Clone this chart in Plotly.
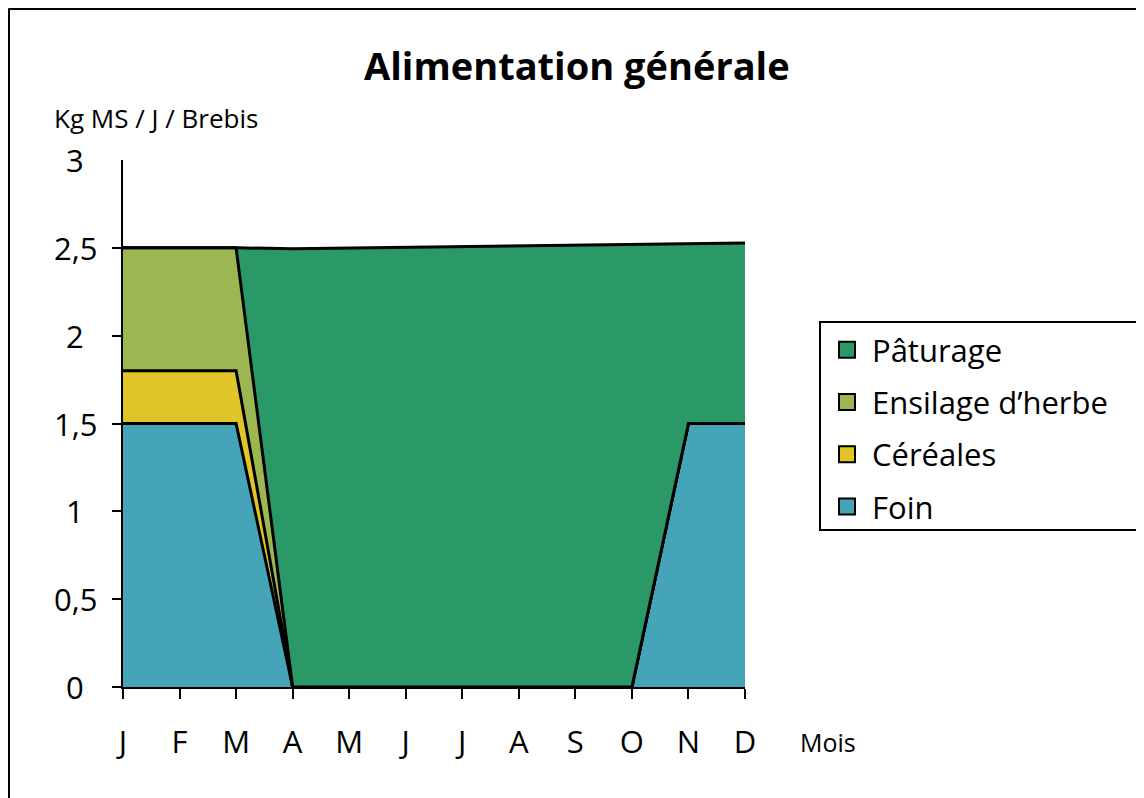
import plotly.graph_objects as go

months = ["J", "F", "M", "A", "M", "J", "J", "A", "S", "O", "N", "D"]
foin = [1.5, 1.5, 1.5, 0, 0, 0, 0, 0, 0, 0, 1.5, 1.5]
cereales = [0.3, 0.3, 0.3, 0, 0, 0, 0, 0, 0, 0, 0, 0]
ensilage = [0.7, 0.7, 0.7, 0, 0, 0, 0, 0, 0, 0, 0, 0]
paturage = [0, 0, 0, 2.495, 2.499, 2.503, 2.507, 2.511, 2.515, 2.519, 1.023, 1.027]
y_vals = [0, 0.5, 1, 1.5, 2, 2.5, 3]
y_labels = ["0", "0,5", "1", "1,5", "2", "2,5", "3"]

series = [
    ("Foin", foin, "#46a4b8"),
    ("Céréales", cereales, "#e0c528"),
    ("Ensilage d’herbe", ensilage, "#9cb752"),
    ("Pâturage", paturage, "#2b9868"),
]

# page body has an 8px margin: figure pixel = screen pixel - 8
OFF = 8
W, H = 1144 - OFF, 798 - OFF
L, R, T, B = 123 - OFF, 745 - OFF, 160 - OFF, 687 - OFF
def px(x):
    return (x - OFF - L) / (R - L)
def py(y):
    return (B - (y - OFF)) / (B - T)

FONT = "Open Sans"
x = list(range(len(months)))

fig = go.Figure()
for name, vals, col in series:
    fig.add_trace(go.Scatter(
        x=x, y=vals, mode="lines", stackgroup="s", fillcolor=col,
        line=dict(color="black", width=3, shape="linear"),
        showlegend=False, hoverinfo="skip", name=name))
# legend entries, top to bottom: Pâturage ... Foin
for name, vals, col in reversed(series):
    fig.add_trace(go.Scatter(
        x=[None], y=[None], mode="markers", name=name, legendgroup=name,
        marker=dict(symbol="square", size=22, color=col,
                    line=dict(color="black", width=2))))

fig.update_layout(
    width=W, height=H, autosize=False,
    margin=dict(l=L, r=W - R, t=T, b=H - B, pad=0),
    paper_bgcolor="white", plot_bgcolor="white",
    font=dict(family=FONT, color="black"),
    showlegend=True,
    legend=dict(x=px(822), y=py(323), xanchor="left", yanchor="top",
                borderwidth=0, bgcolor="rgba(0,0,0,0)",
                font=dict(size=31, family=FONT), traceorder="grouped",
                tracegroupgap=9, itemsizing="trace", itemwidth=40),
)
fig.update_xaxes(range=[0, 11], tickvals=x, ticktext=months,
                 showline=True, linecolor="black", linewidth=2,
                 ticks="outside", ticklen=10, tickwidth=2, tickcolor="black",
                 showgrid=False, zeroline=False,
                 tickfont=dict(size=31, family=FONT), ticklabelstandoff=17)
fig.update_yaxes(range=[0, 3], tickvals=[v for v in y_vals if v < 3],
                 showticklabels=False,
                 showline=True, linecolor="black", linewidth=2,
                 ticks="outside", ticklen=9, tickwidth=2, tickcolor="black",
                 showgrid=False, zeroline=False)

# y tick labels, centred in a column (as in the original)
for v, t in zip(y_vals, y_labels):
    fig.add_annotation(text=t, x=px(75), y=v, xref="paper", yref="y",
                       showarrow=False, xanchor="center", yanchor="middle",
                       font=dict(size=31, family=FONT))

fig.add_annotation(text="<b>Alimentation générale</b>", x=px(577), y=py(65),
                   xref="paper", yref="paper", showarrow=False,
                   xanchor="center", yanchor="middle",
                   font=dict(size=38, family=FONT))
fig.add_annotation(text="Kg MS / J / Brebis", x=px(52), y=py(118),
                   xref="paper", yref="paper", showarrow=False,
                   xanchor="left", yanchor="middle",
                   font=dict(size=26, family=FONT))
fig.add_annotation(text="Mois", x=px(798), y=py(742),
                   xref="paper", yref="paper", showarrow=False,
                   xanchor="left", yanchor="middle",
                   font=dict(size=25, family=FONT))

# legend frame
fig.add_shape(type="rect", xref="paper", yref="paper",
              x0=px(820), x1=px(1140), y0=py(322), y1=py(530),
              line=dict(color="black", width=2), fillcolor="white", layer="below")
# outer frame (top and left edges)
fig.add_shape(type="line", xref="paper", yref="paper",
              x0=px(8.5), x1=px(1160), y0=py(8.5), y1=py(8.5),
              line=dict(color="black", width=3))
fig.add_shape(type="line", xref="paper", yref="paper",
              x0=px(8.5), x1=px(8.5), y0=py(8.5), y1=py(820),
              line=dict(color="black", width=3))

fig.write_html("out.html")
